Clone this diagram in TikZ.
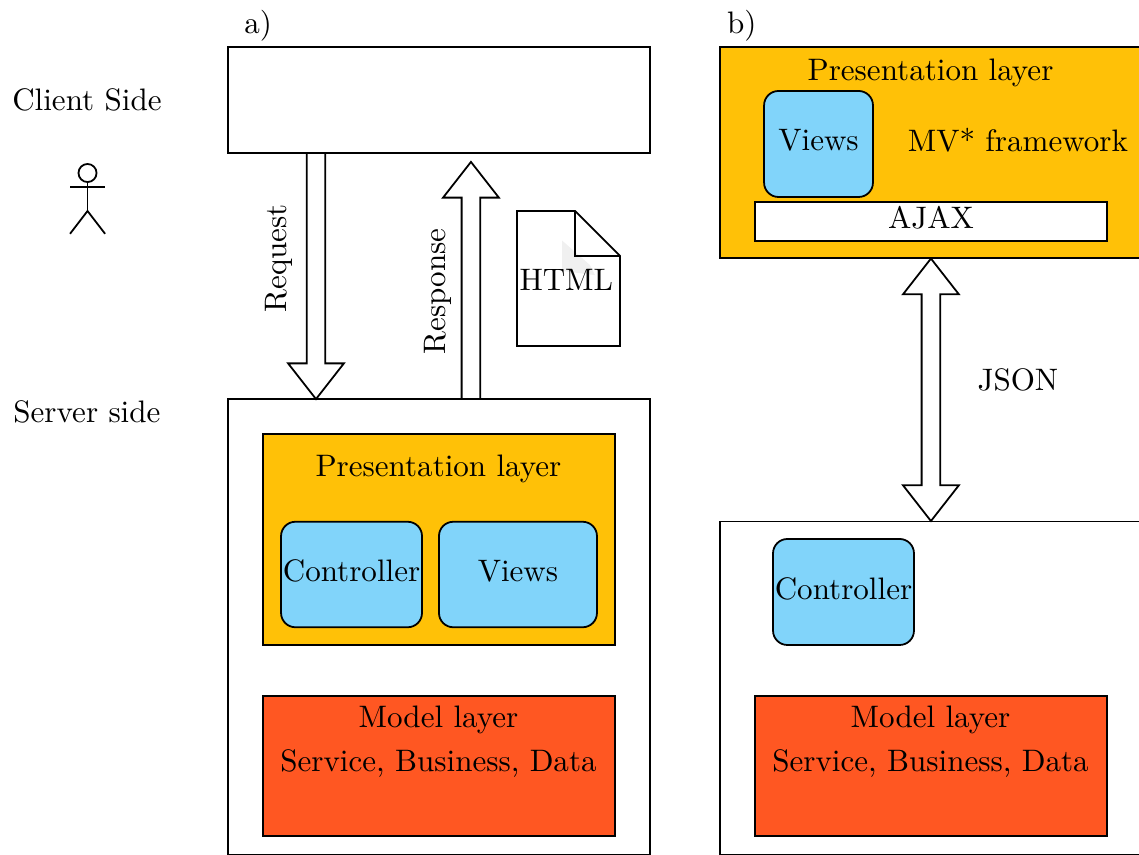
\documentclass[tikz,border=0pt]{standalone}
\usetikzlibrary{shapes.arrows}
\definecolor{presentcolor}{HTML}{FFC107}
\definecolor{modelcolor}{HTML}{FF5722}
\definecolor{partcolor}{HTML}{81D4FA}
\tikzset{
  every node/.style={font=\fontsize{10.47}{12.5}\selectfont},
  tier/.style={draw, line width=0.6pt, inner sep=0pt, outer sep=0pt, text depth=2.6pt},
  layerbox/.style={tier, minimum width=4.17cm},
  partbox/.style={tier, fill=partcolor, rounded corners=0.17cm, minimum height=1.25cm},
  blockarrow/.style={draw, line width=0.6pt, fill=white, single arrow, inner sep=0.1cm, outer sep=0pt,
    minimum width=0.652cm, single arrow head extend=0.22cm, single arrow tip angle=76},
  blockboth/.style={draw, line width=0.6pt, fill=white, double arrow, inner sep=0.1cm, outer sep=0pt,
    minimum width=0.652cm, double arrow head extend=0.22cm, double arrow tip angle=76}
}
\begin{document}
\begin{tikzpicture}
  \useasboundingbox (0,0) rectangle (13.495,10.13);

  % Side labels and the person
  \node (clientside) at (1.03,8.95) {Client Side};
  \node (serverside) at (1.03,5.25) {Server side};
  \draw [line width=0.6pt] (1.037,8.08) circle (0.107);
  \draw [line width=0.6pt] (1.037,7.973) -- (1.037,7.63);
  \draw [line width=0.6pt] (0.83,7.91) -- (1.245,7.91);
  \draw [line width=0.6pt] (0.83,7.36) -- (1.037,7.63) -- (1.245,7.36);

  % Part a
  \node (labela) at (3.06,9.83) {a)};
  \node [tier, minimum width=5cm, minimum height=1.256cm] (clienta) at (5.20,8.946) {};
  \node [tier, minimum width=5cm, minimum height=5.403cm] (servera) at (5.20,2.70) {};
  \node [layerbox, fill=presentcolor, minimum height=2.5cm] (presenta) at (5.20,3.738) {};
  \node (presenttexta) at (5.195,4.58) {Presentation layer};
  \node [partbox, minimum width=1.67cm] (controllera) at (4.165,3.323) {Controller};
  \node [partbox, minimum width=1.872cm] (viewsa) at (6.137,3.323) {Views};
  \node [layerbox, fill=modelcolor, minimum height=1.659cm] (modela) at (5.20,1.055) {};
  \node (modeltexta) at (5.195,1.60) {Model layer};
  \node (servicetexta) at (5.195,1.08) {Service, Business, Data};

  % Request and response
  \node [blockarrow, rotate=-90, minimum height=2.915cm, anchor=tip] (request) at ([xshift=-1.456cm]servera.north) {};
  \node [rotate=90] (requesttext) at (3.305,7.07) {Request};
  \node [blockarrow, rotate=90, minimum height=2.81cm, anchor=tail] (response) at ([xshift=0.38cm]servera.north) {};
  \node [rotate=90] (responsetext) at (5.185,6.68) {Response};

  % HTML page
  \fill [black!6] (6.66,7.28) -- (6.66,6.92) -- (7.05,6.87) -- (6.99,6.99) -- cycle;
  \draw [line width=0.6pt] (6.125,7.63) -- (6.813,7.63) -- (7.346,7.097) -- (7.346,6.031) -- (6.125,6.031) -- cycle;
  \draw [line width=0.6pt] (6.813,7.63) -- (6.813,7.097) -- (7.346,7.097);
  \node (htmltext) at (6.71,6.81) {HTML};

  % Part b
  \node (labelb) at (8.79,9.83) {b)};
  \node [tier, fill=presentcolor, minimum width=5cm, minimum height=2.5cm] (presentb) at (11.03,8.323) {};
  \node (presenttextb) at (11.025,9.27) {Presentation layer};
  \node [partbox, minimum width=1.29cm, minimum height=1.256cm] (viewsb) at (9.698,8.424) {Views};
  \node (mvtext) at (12.06,8.47) {MV* framework};
  \node [layerbox, fill=white, minimum height=0.462cm] (ajax) at (11.03,7.506) {AJAX};
  \node [tier, minimum width=5cm, minimum height=3.95cm] (serverb) at (11.03,1.975) {};
  \node [partbox, minimum width=1.67cm, minimum height=1.256cm] (controllerb) at (9.994,3.116) {Controller};
  \node [layerbox, fill=modelcolor, minimum height=1.659cm] (modelb) at (11.03,1.055) {};
  \node (modeltextb) at (11.025,1.60) {Model layer};
  \node (servicetextb) at (11.025,1.08) {Service, Business, Data};

  % JSON exchange
  \path (presentb.south) -- (serverb.north) node [midway, blockboth, rotate=90, minimum height=3.11cm] (json) {};
  \node (jsontext) at (12.06,5.63) {JSON};
\end{tikzpicture}
\end{document}
